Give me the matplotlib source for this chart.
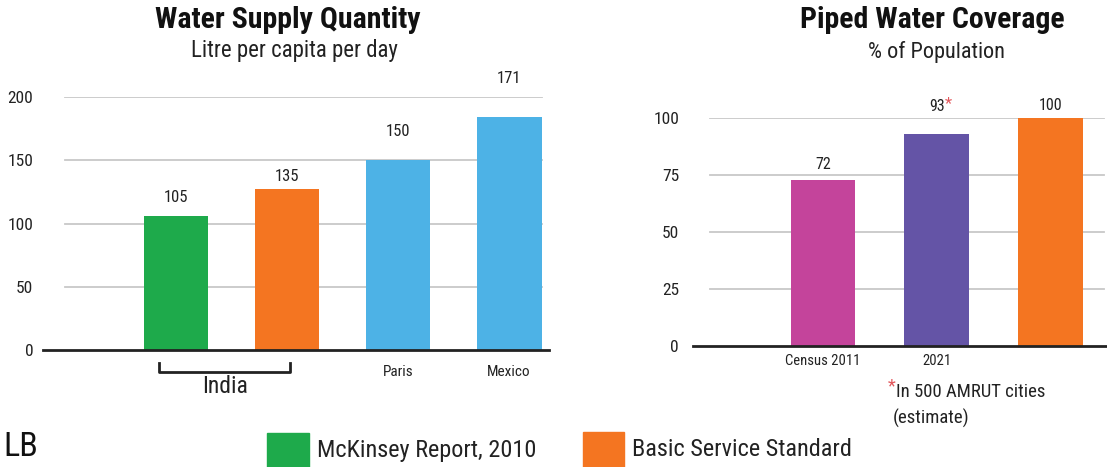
import numpy as np
import matplotlib
matplotlib.use("Agg")
import matplotlib.pyplot as plt
from matplotlib.patches import Rectangle
from matplotlib import font_manager

# pick a condensed face if one is installed, else plain DejaVu Sans
names = {f.name for f in font_manager.fontManager.ttflist}
cands = ["Liberation Sans Narrow", "DejaVu Sans Condensed", "Roboto Condensed",
         "Open Sans Condensed", "Noto Sans Condensed", "Arial Narrow"]
narrow = [c for c in cands if c in names]
plt.rcParams["font.family"] = narrow[:1] + ["DejaVu Sans"]

# --- data -------------------------------------------------------------
supply_cats = ["India-McKinsey", "India-Standard", "Paris", "Mexico"]
supply_ticklabels = ["", "", "Paris", "Mexico"]
supply_heights = [106, 127, 150, 184]          # bar heights as drawn
supply_labels = ["105", "135", "150", "171"]   # printed values
supply_yticks = [0, 50, 100, 150, 200]

cover_cats = ["Census 2011", "2021", "Standard"]
cover_ticklabels = ["Census 2011", "2021", ""]
cover_heights = [73, 93, 100]
cover_labels = ["72", "93", "100"]
cover_yticks = [0, 25, 50, 75, 100]

legend_labels = ["McKinsey Report, 2010", "Basic Service Standard"]

# --- style -------------------------------------------------------------
GREEN, ORANGE, BLUE = "#1eaa4b", "#f47521", "#4db2e6"
MAGENTA, PURPLE = "#c4449b", "#6454a6"
GRID = "#c8c8c8"
STAR = "#e2575c"
INK = "#222222"
supply_colors = [GREEN, ORANGE, BLUE, BLUE]
cover_colors = [MAGENTA, PURPLE, ORANGE]
supply_lab_off = [13, 9, 21, 28]   # points above bar top
cover_lab_off = [11, 20, 9]

W, H = 1107, 467
fig = plt.figure(figsize=(W / 100, H / 100), dpi=100)


def fx(px):
    return px / W


def fy(py):
    return 1 - py / H


def style_axes(ax, yticks, gx0, gx1, pad):
    for s in ["top", "right", "left"]:
        ax.spines[s].set_visible(False)
    ax.spines["bottom"].set_linewidth(2)
    ax.spines["bottom"].set_color(INK)
    ax.set_yticks(yticks)
    ax.tick_params(axis="y", length=0, pad=pad, labelsize=12.5, labelcolor=INK)
    ax.tick_params(axis="x", length=0, labelsize=11, labelcolor=INK)
    for t in yticks[1:]:
        ax.axhline(t, xmin=gx0, xmax=gx1, color=GRID, lw=1.3, zorder=0)


# --- left: water supply quantity -------------------------------------
ax1 = fig.add_axes([fx(43), fy(350), fx(549 - 43), (350 - 97) / H])
x1 = np.arange(len(supply_cats))
ax1.bar(x1, supply_heights, width=0.585, color=supply_colors, zorder=2)
ax1.set_xlim(-1.198, 3.36)
ax1.set_ylim(0, 200)
style_axes(ax1, supply_yticks, 0.0435, 0.986, 7)
ax1.set_xticks(x1)
ax1.set_xticklabels(supply_ticklabels)
ax1.tick_params(axis="x", pad=11)
for xi, h, lab, off in zip(x1, supply_heights, supply_labels, supply_lab_off):
    ax1.annotate(lab, (xi, h), xytext=(0, off), textcoords="offset points",
                 ha="center", va="center", fontsize=12, color=INK,
                 annotation_clip=False)

# India bracket under first two bars
bx0, bx1 = x1[0] - 0.15, x1[1] + 0.03
ax1.plot([bx0, bx0, bx1, bx1], [-0.05, -0.085, -0.085, -0.05],
         transform=ax1.get_xaxis_transform(), color=INK, lw=2,
         clip_on=False)
ax1.text((bx0 + bx1) / 2, -0.145, "India", transform=ax1.get_xaxis_transform(),
         ha="center", va="center", fontsize=17, color=INK)

fig.text(fx(288), fy(28), "Water Supply Quantity", ha="center", va="baseline",
         fontsize=21.5, fontweight="bold", color="#111111")
fig.text(fx(294), fy(57), "Litre per capita per day", ha="center", va="baseline",
         fontsize=16.5, color=INK)

# --- right: piped water coverage -------------------------------------
ax2 = fig.add_axes([fx(693), fy(346), fx(1107 - 693), (346 - 118) / H])
x2 = np.arange(len(cover_cats))
ax2.bar(x2, cover_heights, width=0.57, color=cover_colors, zorder=2)
ax2.set_xlim(-1.143, 2.497)
ax2.set_ylim(0, 100)
style_axes(ax2, cover_yticks, 0.041, 0.993, 10)
ax2.set_xticks(x2)
ax2.set_xticklabels(cover_ticklabels)
ax2.tick_params(axis="x", pad=6, labelsize=10.5)
for xi, h, lab, off in zip(x2, cover_heights, cover_labels, cover_lab_off):
    ax2.annotate(lab, (xi, h), xytext=(0, off), textcoords="offset points",
                 ha="center", va="center", fontsize=11.5, color=INK,
                 annotation_clip=False)
# red asterisk on the 2021 value
ax2.annotate("*", (x2[1], cover_heights[1]), xytext=(6, cover_lab_off[1] + 2),
             textcoords="offset points", ha="left", va="center",
             fontsize=12, color=STAR, annotation_clip=False)

fig.text(fx(932), fy(28), "Piped Water Coverage", ha="center", va="baseline",
         fontsize=21.5, fontweight="bold", color="#111111")
fig.text(fx(937), fy(58), "% of Population", ha="center", va="baseline",
         fontsize=16, color=INK)

# footnote
fig.text(fx(888), fy(386), "*", ha="left", va="center", fontsize=13, color=STAR)
fig.text(fx(896), fy(392), "In 500 AMRUT cities", ha="left", va="center",
         fontsize=13.5, color=INK)
fig.text(fx(893), fy(418), "(estimate)", ha="left", va="center",
         fontsize=13.5, color=INK)

# --- legend -----------------------------------------------------------
for (px0, px1, py0), col, lab in zip([(267, 309, 433), (583, 624, 432)],
                                     [GREEN, ORANGE], legend_labels):
    fig.patches.append(Rectangle((fx(px0), fy(py0 + 40)), fx(px1 - px0), 40 / H,
                                 transform=fig.transFigure, color=col))
    fig.text(fx(px1 + 8), fy(450), lab, ha="left", va="center", fontsize=17.5,
             color=INK)

fig.text(fx(3), fy(447), "LB", ha="left", va="center", fontsize=24.5,
         color="#111111")

fig.savefig("out.png", dpi=100)
